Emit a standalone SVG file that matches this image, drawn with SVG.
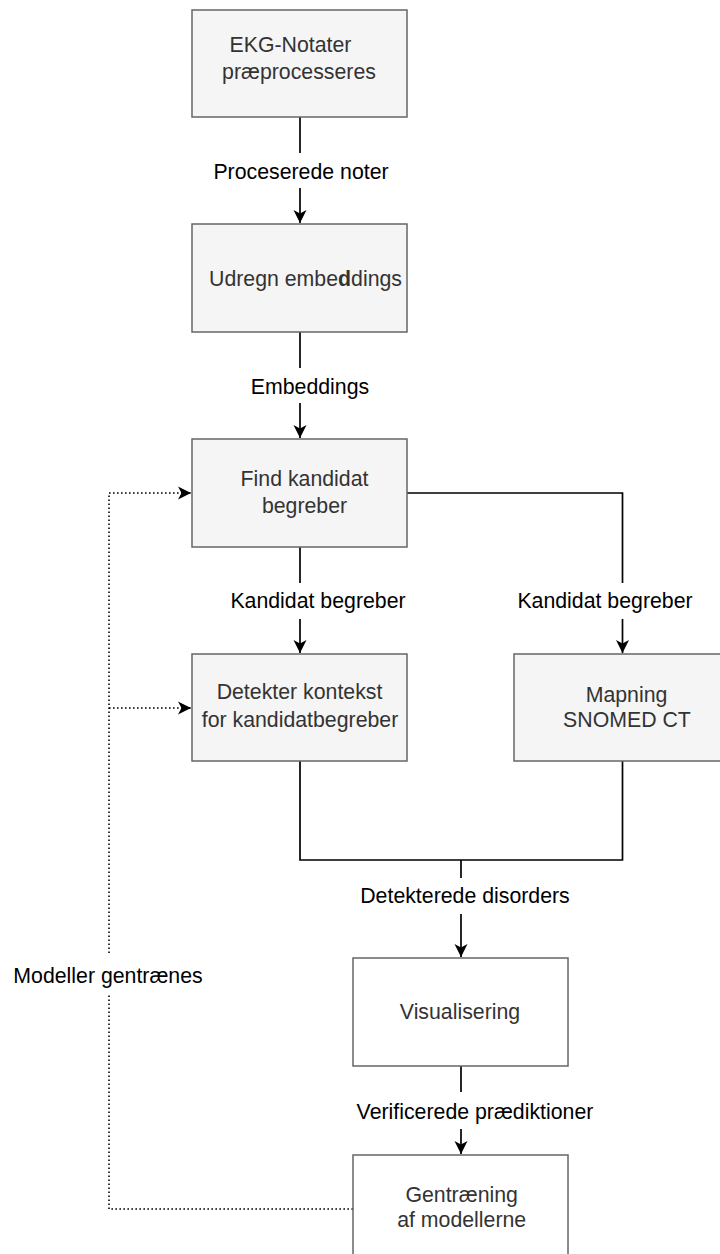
<svg xmlns="http://www.w3.org/2000/svg" width="720" height="1254" viewBox="0 0 720 1254">
<style>
.box{fill:#f5f5f5;stroke:#666666;stroke-width:1.5}
.wbox{fill:#ffffff;stroke:#666666;stroke-width:1.5}
.nt{font-family:"Liberation Sans",Arial,sans-serif;font-size:21.3px;fill:#333333;text-anchor:middle}
.lb{font-family:"Liberation Sans",Arial,sans-serif;font-size:21.3px;fill:#000000;text-anchor:middle}
.bg{fill:#ffffff}
.edge{fill:none;stroke:#000000;stroke-width:1.7}
.dot{fill:none;stroke:#000000;stroke-width:1.6;stroke-dasharray:1.6 2.4}
</style>
<defs>
<marker id="arr" markerUnits="userSpaceOnUse" markerWidth="16" markerHeight="16" viewBox="-14 -8 16 16" refX="0" refY="0" orient="auto">
<path d="M0,0 L-13,-6.5 L-9.5,0 L-13,6.5 Z" fill="#000000"/>
</marker>
</defs>
<g id="connectors">
<path class="edge" d="M300,117 V223" marker-end="url(#arr)"/>
<path class="edge" d="M300,332 V438" marker-end="url(#arr)"/>
<path class="edge" d="M300,547 V653" marker-end="url(#arr)"/>
<path class="edge" d="M407,493 H622.5 V653" marker-end="url(#arr)"/>
<path class="edge" d="M300,761 V860 H622.5 V761"/>
<path class="edge" d="M461,860 V957" marker-end="url(#arr)"/>
<path class="edge" d="M461,1066 V1154" marker-end="url(#arr)"/>
<path class="dot" d="M353,1209 H109 V493 H191" marker-end="url(#arr)"/>
<path class="dot" d="M109,708 H191" marker-end="url(#arr)"/>
<rect class="bg" x="210" y="153" width="182" height="35"/>
<text class="lb" x="301" y="179">Proceserede noter</text>
<rect class="bg" x="249" y="368" width="123" height="35"/>
<text class="lb" x="310" y="394">Embeddings</text>
<rect class="bg" x="228" y="583" width="181" height="36"/>
<text class="lb" x="318" y="608">Kandidat begreber</text>
<rect class="bg" x="514" y="583" width="182" height="36"/>
<text class="lb" x="605" y="608">Kandidat begreber</text>
<rect class="bg" x="357" y="878" width="216" height="36"/>
<text class="lb" x="465" y="903">Detekterede disorders</text>
<rect class="bg" x="354" y="1092" width="242" height="37"/>
<text class="lb" x="475" y="1119">Verificerede prædiktioner</text>
<rect class="bg" x="10" y="953" width="196" height="41"/>
<text class="lb" x="108" y="983">Modeller gentrænes</text>
</g>
<g id="n1">
<rect class="box" x="192" y="10" width="215" height="107"/>
<text class="nt" x="290.5" y="52">EKG-Notater</text>
<text class="nt" x="299" y="79">præprocesseres</text>
</g>
<g id="n2">
<rect class="box" x="192" y="224" width="215" height="108"/>
<text class="nt" x="209" y="286" style="text-anchor:start">Udregn embe<tspan font-weight="bold">d</tspan>dings</text>
</g>
<g id="n3">
<rect class="box" x="192" y="439" width="215" height="108"/>
<text class="nt" x="304.5" y="486">Find kandidat</text>
<text class="nt" x="304.5" y="513">begreber</text>
</g>
<g id="n4">
<rect class="box" x="192" y="654" width="215" height="107"/>
<text class="nt" x="299.5" y="699">Detekter kontekst</text>
<text class="nt" x="300" y="727">for kandidatbegreber</text>
</g>
<g id="n5">
<rect class="box" x="514" y="654" width="225" height="107"/>
<text class="nt" x="626.5" y="702">Mapning</text>
<text class="nt" x="627" y="727">SNOMED CT</text>
</g>
<g id="n6">
<rect class="wbox" x="353" y="958" width="215" height="108"/>
<text class="nt" x="460" y="1019">Visualisering</text>
</g>
<g id="n7">
<rect class="wbox" x="353" y="1155" width="215" height="108"/>
<text class="nt" x="461.7" y="1202">Gentræning</text>
<text class="nt" x="461.7" y="1227">af modellerne</text>
</g>
</svg>
